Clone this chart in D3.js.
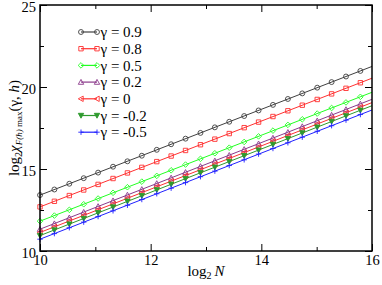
<!DOCTYPE html>
<html>
<head>
<meta charset="utf-8">
<script src="https://cdn.jsdelivr.net/npm/d3@7"></script>
<style>
  body { margin: 0; background: #fff; }
  svg { display: block; }
  svg text { font-family: "Liberation Serif", "Times New Roman", "DejaVu Serif", serif; fill: #000; }
</style>
</head>
<body>
<div id="chart"></div>
<script>
// log2 N values (N grows by a factor 1.2 per step)
const logN = [10, 10.26, 10.53, 10.79, 11.05, 11.32, 11.58, 11.84, 12.11, 12.37, 12.63, 12.90,
  13.16, 13.42, 13.69, 13.95, 14.21, 14.48, 14.74, 15.01, 15.27, 15.53, 15.79];

const g09 = [13.41, 13.75, 14.10, 14.44, 14.78, 15.14, 15.47, 15.81, 16.17, 16.51, 16.85, 17.20,
  17.54, 17.88, 18.23, 18.57, 18.91, 19.27, 19.61, 19.96, 20.30, 20.64, 20.98];
const g08 = [12.69, 13.03, 13.38, 13.72, 14.06, 14.42, 14.76, 15.10, 15.45, 15.79, 16.13, 16.48,
  16.82, 17.16, 17.52, 17.86, 18.20, 18.55, 18.89, 19.24, 19.58, 19.92, 20.26];
const g05 = [11.82, 12.16, 12.51, 12.85, 13.20, 13.55, 13.89, 14.23, 14.58, 14.92, 15.27, 15.62,
  15.96, 16.30, 16.65, 16.99, 17.34, 17.69, 18.03, 18.38, 18.72, 19.06, 19.40];
const g02 = [11.33, 11.67, 12.03, 12.37, 12.72, 13.07, 13.42, 13.76, 14.12, 14.46, 14.80, 15.16,
  15.50, 15.84, 16.20, 16.54, 16.89, 17.24, 17.59, 17.94, 18.29, 18.63, 18.97];
const g00 = [11.13, 11.47, 11.83, 12.17, 12.52, 12.87, 13.22, 13.56, 13.92, 14.26, 14.60, 14.96,
  15.30, 15.64, 16.00, 16.34, 16.69, 17.04, 17.39, 17.74, 18.09, 18.43, 18.77];
const gm02 = [10.94, 11.28, 11.64, 11.98, 12.33, 12.68, 13.03, 13.37, 13.73, 14.07, 14.41, 14.77,
  15.11, 15.45, 15.81, 16.15, 16.50, 16.85, 17.20, 17.55, 17.90, 18.24, 18.58];
const gm05 = [10.72, 11.06, 11.42, 11.76, 12.10, 12.45, 12.79, 13.14, 13.49, 13.83, 14.17, 14.53,
  14.87, 15.21, 15.56, 15.91, 16.25, 16.60, 16.94, 17.30, 17.64, 17.98, 18.32];

const xTicks = [10, 12, 14, 16];
const yTicks = [10, 15, 20, 25];

const series = [
  { label: 'γ = 0.9', values: g09, color: '#404040', shape: 'circle', fill: 'none' },
  { label: 'γ = 0.8', values: g08, color: '#ff3030', shape: 'square', fill: 'none' },
  { label: 'γ = 0.5', values: g05, color: '#22ff22', shape: 'diamond', fill: 'none' },
  { label: 'γ = 0.2', values: g02, color: '#8b3a8b', shape: 'triUp', fill: 'none' },
  { label: 'γ = 0', values: g00, color: '#ff3030', shape: 'triLeft', fill: 'none' },
  { label: 'γ = -0.2', values: gm02, color: '#2e9a2e', shape: 'triDown', fill: '#2e9a2e' },
  { label: 'γ = -0.5', values: gm05, color: '#2020ff', shape: 'plus', fill: 'none' }
];

const width = 382, height = 285;
const margin = { top: 5, right: 10, bottom: 34, left: 40 };
const w = width - margin.left - margin.right;
const h = height - margin.top - margin.bottom;

const svg = d3.select('#chart').append('svg')
  .attr('width', width).attr('height', height);
const g = svg.append('g').attr('transform', `translate(${margin.left},${margin.top})`);

const x = d3.scaleLinear().domain([10, 16]).range([0, w]);
const y = d3.scaleLinear().domain([10, 25]).range([h, 0]);

// marker path for a shape centred on 0,0
function markerPath(shape) {
  const r = 2.2;
  switch (shape) {
    case 'circle': return d3.symbol(d3.symbolCircle, 19)();
    case 'square': return `M${-r},${-r}H${r}V${r}H${-r}Z`;
    case 'diamond': return `M0,${-r - 0.6}L${r + 0.6},0L0,${r + 0.6}L${-r - 0.6},0Z`;
    case 'triUp': return `M0,${-r - 0.5}L${r + 0.5},${r}L${-r - 0.5},${r}Z`;
    case 'triDown': return `M0,${r + 0.5}L${r + 0.5},${-r}L${-r - 0.5},${-r}Z`;
    case 'triLeft': return `M${-r - 0.5},0L${r},${-r - 0.5}L${r},${r + 0.5}Z`;
    case 'plus': return `M${-r - 0.5},0H${r + 0.5}M0,${-r - 0.5}V${r + 0.5}`;
  }
}

// straight least-squares line through each series, drawn across the whole x range
function fit(xs, ys) {
  const mx = d3.mean(xs), my = d3.mean(ys);
  let sxy = 0, sxx = 0;
  xs.forEach((v, i) => { sxy += (v - mx) * (ys[i] - my); sxx += (v - mx) ** 2; });
  const b = sxy / sxx;
  return v => my + b * (v - mx);
}

svg.append('defs').append('clipPath').attr('id', 'clip')
  .append('rect').attr('width', w).attr('height', h);

const plot = g.append('g').attr('clip-path', 'url(#clip)');

series.forEach(s => {
  const f = fit(logN, s.values);
  plot.append('line')
    .attr('x1', x(10)).attr('y1', y(f(10)))
    .attr('x2', x(16)).attr('y2', y(f(16)))
    .attr('stroke', s.color).attr('stroke-width', 1);
});

series.forEach(s => {
  g.append('g').selectAll('path')
    .data(logN.map((v, i) => [v, s.values[i]]))
    .enter().append('path')
    .attr('transform', d => `translate(${x(d[0])},${y(d[1])})`)
    .attr('d', markerPath(s.shape))
    .attr('fill', s.fill)
    .attr('stroke', s.color)
    .attr('stroke-width', 0.9);
});

// axes with inward ticks on all four sides
const xMinor = [11, 13, 15];
const yMinor = [12.5, 17.5, 22.5];
const fontSize = 14.5;

g.append('g').attr('transform', `translate(0,${h})`)
  .call(d3.axisBottom(x).tickValues(xTicks).tickSizeInner(-7).tickSizeOuter(0).tickPadding(4).tickFormat(d3.format('d')));
g.append('g').attr('transform', `translate(0,${h})`)
  .call(d3.axisBottom(x).tickValues(xMinor).tickSizeInner(-4).tickSizeOuter(0).tickFormat(''));
g.append('g')
  .call(d3.axisTop(x).tickValues(xTicks).tickSizeInner(-7).tickSizeOuter(0).tickFormat(''));
g.append('g')
  .call(d3.axisTop(x).tickValues(xMinor).tickSizeInner(-4).tickSizeOuter(0).tickFormat(''));
const axL = g.append('g')
  .call(d3.axisLeft(y).tickValues(yTicks).tickSizeInner(-7).tickSizeOuter(0).tickPadding(4).tickFormat(d3.format('d')));
g.append('g')
  .call(d3.axisLeft(y).tickValues(yMinor).tickSizeInner(-4).tickSizeOuter(0).tickFormat(''));
g.append('g').attr('transform', `translate(${w},0)`)
  .call(d3.axisRight(y).tickValues(yTicks).tickSizeInner(-7).tickSizeOuter(0).tickFormat(''));
g.append('g').attr('transform', `translate(${w},0)`)
  .call(d3.axisRight(y).tickValues(yMinor).tickSizeInner(-4).tickSizeOuter(0).tickFormat(''));

g.selectAll('.domain').remove();
g.selectAll('.tick line').attr('stroke', '#000').attr('stroke-width', 1);
g.selectAll('.tick text').attr('font-size', fontSize);
axL.selectAll('.tick text').attr('dy', '0.42em');

g.append('rect').attr('width', w).attr('height', h)
  .attr('fill', 'none').attr('stroke', '#000').attr('stroke-width', 1.5);

// x axis title
const xt = svg.append('text')
  .attr('x', margin.left + w / 2).attr('y', 276)
  .attr('text-anchor', 'middle').attr('font-size', 15);
xt.append('tspan').text('log');
xt.append('tspan').attr('font-size', 10).attr('dy', 3).text('2');
xt.append('tspan').attr('dy', -3).text('\u2009');
xt.append('tspan').attr('font-style', 'italic').text('N');

// y axis title
const yt = svg.append('text')
  .attr('transform', `translate(19,${margin.top + h / 2}) rotate(-90)`)
  .attr('text-anchor', 'middle').attr('font-size', 15);
yt.append('tspan').text('log');
yt.append('tspan').attr('font-size', 10).attr('dy', 3).text('2');
yt.append('tspan').attr('dy', -3).attr('font-style', 'italic').text('χ');
yt.append('tspan').attr('font-size', 9).attr('dy', 3).attr('font-style', 'italic').text('F(h)');
yt.append('tspan').attr('font-size', 9).text(' max');
yt.append('tspan').attr('dy', -3).text('(γ, ');
yt.append('tspan').attr('font-style', 'italic').text('h');
yt.append('tspan').text(')');

// legend
const legend = svg.append('g').attr('transform', 'translate(81,32)');
series.forEach((s, i) => {
  const row = legend.append('g').attr('transform', `translate(0,${i * 16.7})`);
  row.append('line').attr('x1', 0).attr('x2', 16).attr('stroke', s.color).attr('stroke-width', 1.2);
  [0, 16].forEach(px => row.append('path')
    .attr('transform', `translate(${px},0)`)
    .attr('d', markerPath(s.shape))
    .attr('fill', s.fill).attr('stroke', s.color).attr('stroke-width', 0.9));
  row.append('text').attr('x', 19.5).attr('dy', '0.35em')
    .attr('font-size', 15).text(s.label);
});
</script>
</body>
</html>
